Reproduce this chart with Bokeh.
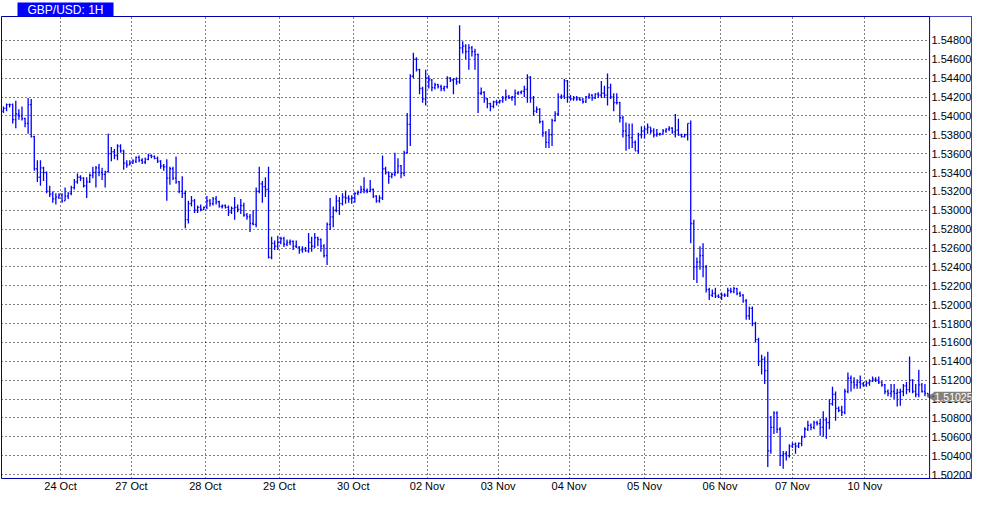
import math
from bokeh.plotting import figure
from bokeh.models import (ColumnDataSource, FixedTicker, PrintfTickFormatter, Range1d, Title,
                          Label, Span, BoxAnnotation)
from bokeh.embed import file_html
from bokeh.resources import INLINE

title_text = "GBP/USD: 1H"
date_labels = ["24 Oct", "27 Oct", "28 Oct", "29 Oct", "30 Oct", "02 Nov",
               "03 Nov", "04 Nov", "05 Nov", "06 Nov", "07 Nov", "10 Nov"]
date_ticks = [18.5, 41.5, 65.5, 89.5, 113.5, 137.5, 160.5, 183.5, 208.0, 232.5, 256.0, 279.5]
price_ticks = [1.502, 1.504, 1.506, 1.508, 1.510, 1.512, 1.514, 1.516, 1.518, 1.520,
               1.522, 1.524, 1.526, 1.528, 1.530, 1.532, 1.534, 1.536, 1.538, 1.540,
               1.542, 1.544, 1.546, 1.548]
last_price = 1.51025

opens = [
    1.5405,1.5408,1.5412,1.5412,1.5396,1.5402,1.5400,1.5397,1.5392,1.5412,1.5378,1.5344,1.5335,1.5345,1.5340,1.5320,1.5317,1.5312,1.5314,
    1.5316,1.5310,1.5315,1.5318,1.5324,1.5330,1.5335,1.5334,1.5326,1.5330,1.5337,1.5340,1.5345,1.5340,1.5338,1.5341,1.5360,1.5362,1.5358,1.5368,1.5363,1.5350,1.5348,
    1.5350,1.5352,1.5356,1.5353,1.5351,1.5354,1.5358,1.5357,1.5355,1.5352,1.5347,1.5346,1.5334,1.5344,1.5334,1.5330,1.5320,1.5318,1.5290,1.5307,1.5310,1.5300,1.5303,1.5301,
    1.5303,1.5310,1.5307,1.5312,1.5309,1.5304,1.5305,1.5303,1.5298,1.5302,1.5303,1.5301,1.5305,1.5295,1.5293,1.5286,1.5285,1.5320,1.5328,1.5325,1.5322,1.5250,1.5265,1.5262,
    1.5266,1.5270,1.5264,1.5266,1.5267,1.5262,1.5261,1.5258,1.5259,1.5257,1.5266,1.5262,1.5271,1.5269,1.5262,1.5252,1.5285,1.5293,1.5300,1.5310,1.5307,1.5314,1.5313,1.5312,
    1.5313,1.5318,1.5319,1.5322,1.5321,1.5320,1.5322,1.5315,1.5310,1.5313,1.5344,1.5340,1.5336,1.5338,1.5340,1.5347,1.5339,1.5361,1.5391,1.5442,1.5460,1.5449,1.5429,1.5418,
    1.5440,1.5438,1.5430,1.5433,1.5431,1.5429,1.5431,1.5440,1.5438,1.5439,1.5436,1.5472,1.5474,1.5468,1.5472,1.5468,1.5465,1.5424,1.5425,1.5418,1.5413,1.5410,1.5415,1.5414,
    1.5416,1.5419,1.5420,1.5419,1.5420,1.5424,1.5425,1.5426,1.5428,1.5441,1.5419,1.5405,1.5407,1.5394,1.5382,1.5372,1.5380,1.5395,1.5402,1.5420,1.5421,1.5437,1.5420,1.5418,
    1.5419,1.5418,1.5417,1.5415,1.5420,1.5422,1.5419,1.5423,1.5422,1.5424,1.5422,1.5430,1.5420,1.5414,1.5414,1.5398,1.5384,1.5379,1.5377,1.5372,1.5363,1.5380,1.5384,1.5386,
    1.5388,1.5384,1.5380,1.5381,1.5381,1.5384,1.5386,1.5387,1.5383,1.5385,1.5380,1.5378,1.5380,1.5392,1.5286,1.5240,1.5245,1.5252,1.5240,1.5216,1.5210,1.5212,1.5209,1.5208,
    1.5210,1.5210,1.5215,1.5214,1.5217,1.5212,1.5210,1.5204,1.5188,1.5196,1.5180,1.5163,1.5140,1.5142,1.5130,1.5045,1.5070,1.5085,1.5068,1.5040,1.5042,1.5040,1.5050,1.5052,
    1.5050,1.5053,1.5060,1.5068,1.5072,1.5070,1.5075,1.5074,1.5070,1.5078,1.5075,1.5095,1.5105,1.5090,1.5088,1.5086,1.5108,1.5122,1.5118,1.5115,1.5118,1.5116,1.5115,1.5117,
    1.5119,1.5121,1.5120,1.5118,1.5115,1.5108,1.5106,1.5108,1.5106,1.5107,1.5108,1.5114,1.5110,1.5120,1.5108,1.5105,1.5115,1.5108,1.5106,
]
highs = [
    1.5410,1.5413,1.5413,1.5413,1.5416,1.5407,1.5410,1.5398,1.5419,1.5418,1.5379,1.5353,1.5353,1.5346,1.5341,1.5326,1.5320,1.5318,1.5318,
    1.5318,1.5324,1.5319,1.5326,1.5333,1.5339,1.5337,1.5335,1.5335,1.5339,1.5346,1.5347,1.5349,1.5345,1.5342,1.5381,1.5367,1.5365,1.5370,1.5370,1.5364,1.5353,1.5353,
    1.5354,1.5357,1.5358,1.5355,1.5356,1.5360,1.5359,1.5358,1.5357,1.5353,1.5349,1.5354,1.5346,1.5346,1.5357,1.5331,1.5336,1.5321,1.5310,1.5315,1.5312,1.5305,1.5306,1.5304,
    1.5315,1.5312,1.5314,1.5315,1.5310,1.5306,1.5306,1.5305,1.5304,1.5314,1.5306,1.5312,1.5308,1.5297,1.5296,1.5300,1.5324,1.5346,1.5331,1.5335,1.5346,1.5272,1.5268,1.5273,
    1.5272,1.5272,1.5269,1.5269,1.5268,1.5268,1.5262,1.5262,1.5261,1.5276,1.5272,1.5276,1.5272,1.5270,1.5264,1.5287,1.5313,1.5304,1.5316,1.5314,1.5318,1.5321,1.5316,1.5316,
    1.5319,1.5321,1.5326,1.5335,1.5323,1.5332,1.5323,1.5316,1.5316,1.5358,1.5346,1.5341,1.5340,1.5361,1.5355,1.5348,1.5363,1.5403,1.5444,1.5467,1.5462,1.5450,1.5431,1.5449,
    1.5443,1.5439,1.5435,1.5434,1.5433,1.5432,1.5442,1.5441,1.5440,1.5441,1.5496,1.5479,1.5476,1.5476,1.5474,1.5471,1.5466,1.5430,1.5426,1.5419,1.5414,1.5416,1.5417,1.5417,
    1.5421,1.5428,1.5422,1.5421,1.5428,1.5426,1.5427,1.5432,1.5444,1.5442,1.5421,1.5410,1.5408,1.5395,1.5384,1.5386,1.5397,1.5405,1.5424,1.5423,1.5439,1.5438,1.5422,1.5421,
    1.5421,1.5420,1.5419,1.5421,1.5424,1.5423,1.5424,1.5425,1.5437,1.5432,1.5445,1.5434,1.5424,1.5424,1.5415,1.5400,1.5393,1.5392,1.5392,1.5374,1.5382,1.5389,1.5389,1.5392,
    1.5388,1.5387,1.5386,1.5382,1.5386,1.5387,1.5389,1.5388,1.5402,1.5397,1.5381,1.5381,1.5392,1.5395,1.5290,1.5250,1.5262,1.5265,1.5242,1.5218,1.5216,1.5218,1.5211,1.5213,
    1.5212,1.5218,1.5218,1.5219,1.5218,1.5214,1.5211,1.5206,1.5198,1.5198,1.5182,1.5165,1.5147,1.5145,1.5150,1.5082,1.5087,1.5087,1.5070,1.5045,1.5045,1.5052,1.5054,1.5054,
    1.5054,1.5061,1.5070,1.5077,1.5074,1.5077,1.5077,1.5079,1.5087,1.5080,1.5100,1.5113,1.5108,1.5092,1.5093,1.5111,1.5128,1.5125,1.5123,1.5121,1.5125,1.5118,1.5119,1.5121,
    1.5124,1.5123,1.5124,1.5119,1.5116,1.5110,1.5116,1.5116,1.5111,1.5111,1.5116,1.5118,1.5145,1.5121,1.5116,1.5131,1.5117,1.5116,1.5106,
]
lows = [
    1.5403,1.5405,1.5409,1.5392,1.5387,1.5396,1.5395,1.5388,1.5381,1.5377,1.5342,1.5330,1.5326,1.5331,1.5318,1.5314,1.5308,1.5306,1.5312,
    1.5308,1.5310,1.5312,1.5316,1.5322,1.5328,1.5331,1.5324,1.5313,1.5329,1.5334,1.5324,1.5336,1.5332,1.5324,1.5340,1.5352,1.5354,1.5353,1.5361,1.5343,1.5345,1.5348,
    1.5349,1.5350,1.5351,1.5349,1.5349,1.5353,1.5355,1.5354,1.5350,1.5344,1.5342,1.5310,1.5327,1.5332,1.5328,1.5318,1.5313,1.5281,1.5286,1.5304,1.5297,1.5297,1.5299,1.5300,
    1.5301,1.5304,1.5305,1.5306,1.5303,1.5302,1.5302,1.5294,1.5296,1.5290,1.5298,1.5296,1.5293,1.5290,1.5277,1.5284,1.5282,1.5318,1.5308,1.5314,1.5249,1.5248,1.5258,1.5258,
    1.5264,1.5261,1.5262,1.5263,1.5258,1.5260,1.5254,1.5255,1.5256,1.5255,1.5256,1.5260,1.5262,1.5256,1.5250,1.5242,1.5279,1.5282,1.5298,1.5295,1.5305,1.5307,1.5308,1.5307,
    1.5308,1.5316,1.5318,1.5318,1.5318,1.5319,1.5313,1.5308,1.5308,1.5311,1.5338,1.5328,1.5334,1.5336,1.5339,1.5334,1.5336,1.5360,1.5368,1.5440,1.5447,1.5423,1.5414,1.5411,
    1.5429,1.5426,1.5428,1.5429,1.5426,1.5426,1.5429,1.5436,1.5423,1.5433,1.5434,1.5466,1.5460,1.5449,1.5463,1.5449,1.5403,1.5422,1.5414,1.5408,1.5405,1.5408,1.5411,1.5413,
    1.5414,1.5416,1.5418,1.5416,1.5411,1.5422,1.5423,1.5420,1.5414,1.5414,1.5400,1.5403,1.5392,1.5378,1.5366,1.5366,1.5368,1.5394,1.5400,1.5418,1.5418,1.5414,1.5416,1.5416,
    1.5416,1.5416,1.5413,1.5414,1.5418,1.5416,1.5418,1.5419,1.5419,1.5419,1.5411,1.5418,1.5405,1.5412,1.5393,1.5377,1.5363,1.5365,1.5366,1.5363,1.5360,1.5376,1.5376,1.5381,
    1.5381,1.5377,1.5378,1.5379,1.5380,1.5382,1.5384,1.5381,1.5377,1.5379,1.5377,1.5377,1.5374,1.5265,1.5226,1.5223,1.5237,1.5229,1.5213,1.5205,1.5208,1.5207,1.5207,1.5205,
    1.5208,1.5208,1.5212,1.5212,1.5210,1.5208,1.5202,1.5184,1.5184,1.5177,1.5160,1.5135,1.5126,1.5116,1.5028,1.5042,1.5063,1.5064,1.5029,1.5026,1.5035,1.5038,1.5048,1.5042,
    1.5048,1.5050,1.5059,1.5066,1.5067,1.5068,1.5072,1.5061,1.5060,1.5058,1.5068,1.5093,1.5077,1.5086,1.5082,1.5084,1.5106,1.5108,1.5111,1.5111,1.5111,1.5113,1.5113,1.5114,
    1.5118,1.5118,1.5116,1.5113,1.5105,1.5103,1.5102,1.5100,1.5092,1.5093,1.5103,1.5105,1.5107,1.5106,1.5102,1.5102,1.5107,1.5103,1.5102,
]
closes = [
    1.5408,1.5412,1.5412,1.5396,1.5402,1.5400,1.5397,1.5392,1.5412,1.5378,1.5344,1.5335,1.5345,1.5340,1.5320,1.5317,1.5312,1.5314,1.5316,
    1.5310,1.5315,1.5318,1.5324,1.5330,1.5335,1.5334,1.5326,1.5330,1.5337,1.5340,1.5345,1.5340,1.5338,1.5341,1.5360,1.5362,1.5358,1.5368,1.5363,1.5350,1.5348,1.5350,
    1.5352,1.5356,1.5353,1.5351,1.5354,1.5358,1.5357,1.5355,1.5352,1.5347,1.5346,1.5334,1.5344,1.5334,1.5330,1.5320,1.5318,1.5290,1.5307,1.5310,1.5300,1.5303,1.5301,1.5303,
    1.5310,1.5307,1.5312,1.5309,1.5304,1.5305,1.5303,1.5298,1.5302,1.5303,1.5301,1.5305,1.5295,1.5293,1.5286,1.5285,1.5320,1.5328,1.5325,1.5322,1.5250,1.5265,1.5262,1.5266,
    1.5270,1.5264,1.5266,1.5267,1.5262,1.5261,1.5258,1.5259,1.5257,1.5266,1.5262,1.5271,1.5269,1.5262,1.5252,1.5285,1.5293,1.5300,1.5310,1.5307,1.5314,1.5313,1.5312,1.5313,
    1.5318,1.5319,1.5322,1.5321,1.5320,1.5322,1.5315,1.5310,1.5313,1.5344,1.5340,1.5336,1.5338,1.5340,1.5347,1.5339,1.5361,1.5391,1.5442,1.5460,1.5449,1.5429,1.5418,1.5440,
    1.5438,1.5430,1.5433,1.5431,1.5429,1.5431,1.5440,1.5438,1.5439,1.5436,1.5472,1.5474,1.5468,1.5472,1.5468,1.5465,1.5424,1.5425,1.5418,1.5413,1.5410,1.5415,1.5414,1.5416,
    1.5419,1.5420,1.5419,1.5420,1.5424,1.5425,1.5426,1.5428,1.5441,1.5419,1.5405,1.5407,1.5394,1.5382,1.5372,1.5380,1.5395,1.5402,1.5420,1.5421,1.5437,1.5420,1.5418,1.5419,
    1.5418,1.5417,1.5415,1.5420,1.5422,1.5419,1.5423,1.5422,1.5424,1.5422,1.5430,1.5420,1.5414,1.5414,1.5398,1.5384,1.5379,1.5377,1.5372,1.5363,1.5380,1.5384,1.5386,1.5388,
    1.5384,1.5380,1.5381,1.5381,1.5384,1.5386,1.5387,1.5383,1.5385,1.5380,1.5378,1.5380,1.5392,1.5286,1.5240,1.5245,1.5252,1.5240,1.5216,1.5210,1.5212,1.5209,1.5208,1.5210,
    1.5210,1.5215,1.5214,1.5217,1.5212,1.5210,1.5204,1.5188,1.5196,1.5180,1.5163,1.5140,1.5142,1.5130,1.5045,1.5070,1.5085,1.5068,1.5040,1.5042,1.5040,1.5050,1.5052,1.5050,
    1.5053,1.5060,1.5068,1.5072,1.5070,1.5075,1.5074,1.5070,1.5078,1.5075,1.5095,1.5105,1.5090,1.5088,1.5086,1.5108,1.5122,1.5118,1.5115,1.5118,1.5116,1.5115,1.5117,1.5119,
    1.5121,1.5120,1.5118,1.5115,1.5108,1.5106,1.5108,1.5106,1.5107,1.5108,1.5114,1.5110,1.5120,1.5108,1.5105,1.5115,1.5108,1.5106,1.51025,
]

FONT = "Liberation Sans"
BAR = "#0000ff"
FRAME = "#0000aa"

n = len(closes)
xs = list(range(n))
src = ColumnDataSource(dict(
    x=xs,
    xl=[i - 0.36 for i in xs],
    xr=[i + 0.36 for i in xs],
    o=opens, h=highs, l=lows, c=closes,
))

# chart area edge (in bar units) and the extra room kept for the price scale
chart_end = n - 0.5
scale_room = 13.6

p = figure(width=974, height=494,
           x_range=Range1d(-0.64, chart_end + scale_room), y_range=Range1d(1.50158, 1.55053),
           output_backend="svg", toolbar_location=None, y_axis_location="right",
           min_border_left=1, min_border_right=0, min_border_top=15, min_border_bottom=13)
p.title = Title(text=title_text, align="left", offset=16, standoff=0,
                text_font=FONT, text_font_size="12px", text_font_style="normal",
                text_color="white", background_fill_color=BAR, padding=(10, 0))
p.background_fill_color = "white"
p.border_fill_color = "white"
p.outline_line_color = FRAME
p.outline_line_width = 1

# grid
p.xgrid.ticker = FixedTicker(ticks=date_ticks)
p.ygrid.ticker = FixedTicker(ticks=price_ticks)
for g in (p.xgrid[0], p.ygrid[0]):
    g.grid_line_color = "black"
    g.grid_line_dash = "1 3"
    g.grid_line_width = 1
    g.grid_line_alpha = 1.0

# price-scale strip (no grid there)
p.add_layout(BoxAnnotation(left=chart_end, fill_color="white", fill_alpha=1.0,
                           line_color=None, level="underlay"))
p.add_layout(Span(location=chart_end, dimension="height", line_color=FRAME, line_width=1))

p.segment(x0="x", y0="l", x1="x", y1="h", source=src, line_color=BAR, line_width=1.3)
p.segment(x0="xl", y0="o", x1="x", y1="o", source=src, line_color=BAR, line_width=1.3)
p.segment(x0="x", y0="c", x1="xr", y1="c", source=src, line_color=BAR, line_width=1.3)

# axes
xa = p.xaxis[0]
xa.ticker = FixedTicker(ticks=date_ticks)
xa.major_label_overrides = {t: s for t, s in zip(date_ticks, date_labels)}
ya = p.yaxis[0]
ya.ticker = FixedTicker(ticks=price_ticks)
ya.formatter = PrintfTickFormatter(format="%.5f")
for ax in (xa, ya):
    ax.axis_line_color = None
    ax.major_tick_line_color = None
    ax.minor_tick_line_color = None
    ax.major_tick_out = 0
    ax.major_tick_in = 0
    ax.minor_tick_out = 0
    ax.minor_tick_in = 0
    ax.major_label_text_font = FONT
    ax.major_label_text_font_size = "11px"
    ax.major_label_text_color = "black"
xa.major_label_standoff = 1
ya.major_label_standoff = -40

# current price marker on the price scale
p.scatter(x=[chart_end + 0.7], y=[last_price], marker="triangle", size=7,
          angle=math.pi / 2, fill_color="#808080", line_color="#808080")
p.add_layout(Label(x=chart_end, y=last_price, x_offset=4,
                   text=f"{last_price:.5f}", text_font=FONT, text_font_size="10.5px",
                   text_color="white", text_baseline="middle", text_align="left",
                   background_fill_color="#808080", padding=(1, 1)))

open("out.html", "w").write(file_html(p, INLINE))
